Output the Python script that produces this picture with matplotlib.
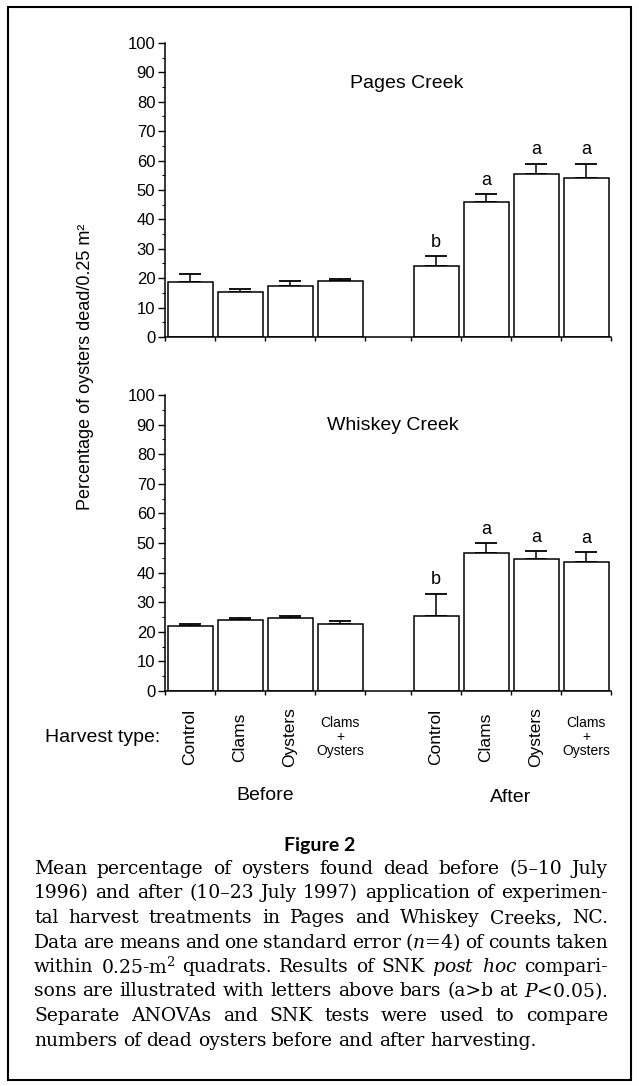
import matplotlib
matplotlib.use('Agg')
import matplotlib.pyplot as plt
import matplotlib.patches as patches
import matplotlib.transforms as mtransforms
import numpy as np

plt.rcParams['font.family'] = 'Liberation Sans'
plt.rcParams['mathtext.fontset'] = 'dejavuserif'

# ---- data ----
harvest_types = ['Control', 'Clams', 'Oysters', 'Clams\n+\nOysters']
periods = ['Before', 'After']
x_before = [0.5, 1.5, 2.5, 3.5]
x_after = [5.42, 6.42, 7.42, 8.42]

pages_before = [18.6, 15.3, 17.3, 19.0]
pages_before_se = [2.8, 1.0, 1.7, 0.7]
pages_after = [24.0, 45.8, 55.3, 54.2]
pages_after_se = [3.5, 2.7, 3.7, 4.8]
pages_letters = ['b', 'a', 'a', 'a']

whiskey_before = [22.0, 24.0, 24.6, 22.8]
whiskey_before_se = [0.7, 0.6, 0.8, 0.7]
whiskey_after = [25.4, 46.5, 44.5, 43.5]
whiskey_after_se = [7.5, 3.5, 2.7, 3.5]
whiskey_letters = ['b', 'a', 'a', 'a']

caption_title = 'Figure 2'
caption_lines = [
    'Mean percentage of oysters found dead before (5\u201310 July',
    '1996) and after (10\u201323 July 1997) application of experimen-',
    'tal harvest treatments in Pages and Whiskey Creeks, NC.',
    r'Data are means and one standard error ($\mathit{n}$=4) of counts taken',
    r'within 0.25-m$^2$ quadrats.  Results of SNK $\mathit{post}$ $\mathit{hoc}$ compari-',
    r'sons are illustrated with letters above bars (a>b at  $\mathit{P}$<0.05).',
    'Separate ANOVAs and SNK tests were used to compare',
    'numbers of dead oysters before and after harvesting.',
]

W, H = 639, 1086
fig = plt.figure(figsize=(W / 100, H / 100), dpi=100)


def fx(px):
    return px / W


def fy(py):
    return 1 - py / H


def draw_panel(ax, before, before_se, after, after_se, letters, title, tx, ty):
    x = x_before + x_after
    vals = before + after
    se = before_se + after_se
    ax.bar(x, vals, width=0.9, color='white', edgecolor='black', linewidth=1.1, zorder=2)
    ax.errorbar(x, vals, yerr=[np.zeros(len(se)), se], fmt='none', ecolor='black',
                elinewidth=1.1, capsize=8, capthick=1.3, zorder=1)
    for xi, v, s, l in zip(x_after, after, after_se, letters):
        ax.text(xi, v + s + 1.8, l, ha='center', va='bottom', fontsize=13)
    ax.set_xlim(0, 8.92)
    ax.set_ylim(0, 100)
    ax.spines['top'].set_visible(False)
    ax.spines['right'].set_visible(False)
    ax.spines['left'].set_linewidth(1.1)
    ax.spines['bottom'].set_linewidth(1.1)
    ax.set_yticks(range(0, 101, 10))
    ax.set_yticks(range(5, 100, 10), minor=True)
    ax.set_xticks([0, 1, 2, 3, 4, 4.92, 5.92, 6.92, 7.92, 8.92])
    ax.set_xticklabels([])
    ax.tick_params(axis='y', which='major', length=5, width=1, labelsize=12, pad=2)
    ax.tick_params(axis='y', which='minor', length=2.5, width=0.8)
    ax.tick_params(axis='x', length=3, width=1)
    fig.text(tx, ty, title, ha='center', va='center', fontsize=14)


ax1 = fig.add_axes([fx(165), fy(337), fx(611) - fx(165), fy(43) - fy(337)])
ax2 = fig.add_axes([fx(165), fy(691), fx(611) - fx(165), fy(395) - fy(691)])
draw_panel(ax1, pages_before, pages_before_se, pages_after, pages_after_se,
           pages_letters, 'Pages Creek', fx(407), fy(83))
draw_panel(ax2, whiskey_before, whiskey_before_se, whiskey_after, whiskey_after_se,
           whiskey_letters, 'Whiskey Creek', fx(393), fy(426))

fig.text(fx(86), fy(367), 'Percentage of oysters dead/0.25 m\u00b2', rotation=90,
         ha='center', va='center', fontsize=13)

# harvest type labels under the bottom panel
trans = mtransforms.blended_transform_factory(ax2.transData, fig.transFigure)
fig.text(fx(160), fy(737), 'Harvest type:', ha='right', va='center', fontsize=14)
for xs in (x_before, x_after):
    for xi, lab in zip(xs, harvest_types):
        if '\n' in lab:
            ax2.text(xi, fy(737), lab, transform=trans, ha='center', va='center',
                     fontsize=10, linespacing=1.0, multialignment='center')
        else:
            ax2.text(xi, fy(737), lab, transform=trans, ha='center', va='center',
                     fontsize=12.5, rotation=90)
ax2.text(np.mean(x_before), fy(795), periods[0], transform=trans, ha='center',
         va='center', fontsize=14)
ax2.text(np.mean(x_after), fy(797), periods[1], transform=trans, ha='center',
         va='center', fontsize=14)

# caption
fig.text(0.5, fy(845), caption_title, ha='center', va='center', fontsize=14,
         family='Lato', weight='bold')

renderer = fig.canvas.get_renderer()
left_px, right_px = 34, 608
line_y0, line_dy = 869, 24.5


def make_words(line, size, y):
    return [fig.text(0, y, w, ha='left', va='center', fontsize=size,
                     family='DejaVu Serif') for w in line.split()]


# pick the caption size so the tightest line (4th) just fills the column
probe = make_words(caption_lines[3], 10, 0.5)
probe_w = sum(o.get_window_extent(renderer).width for o in probe)
for o in probe:
    o.remove()
n_gaps = len(caption_lines[3].split()) - 1
cap_size = 10 * (right_px - left_px - n_gaps * 4) / probe_w

for i, line in enumerate(caption_lines):
    y = fy(line_y0 + i * line_dy)
    objs = make_words(line, cap_size, y)
    widths = [o.get_window_extent(renderer).width for o in objs]
    if i == len(caption_lines) - 1:
        gap = 0.3 * cap_size / 72 * 100
    else:
        gap = (right_px - left_px - sum(widths)) / (len(objs) - 1)
    x = left_px
    for o, w in zip(objs, widths):
        o.set_x(fx(x))
        x += w + gap

# frame around the whole figure
fig.patches.append(patches.Rectangle((fx(8), fy(1080)), fx(631) - fx(8), fy(7) - fy(1080),
                                     transform=fig.transFigure, fill=False,
                                     edgecolor='black', linewidth=1.5))

fig.savefig('out.png', dpi=100)
